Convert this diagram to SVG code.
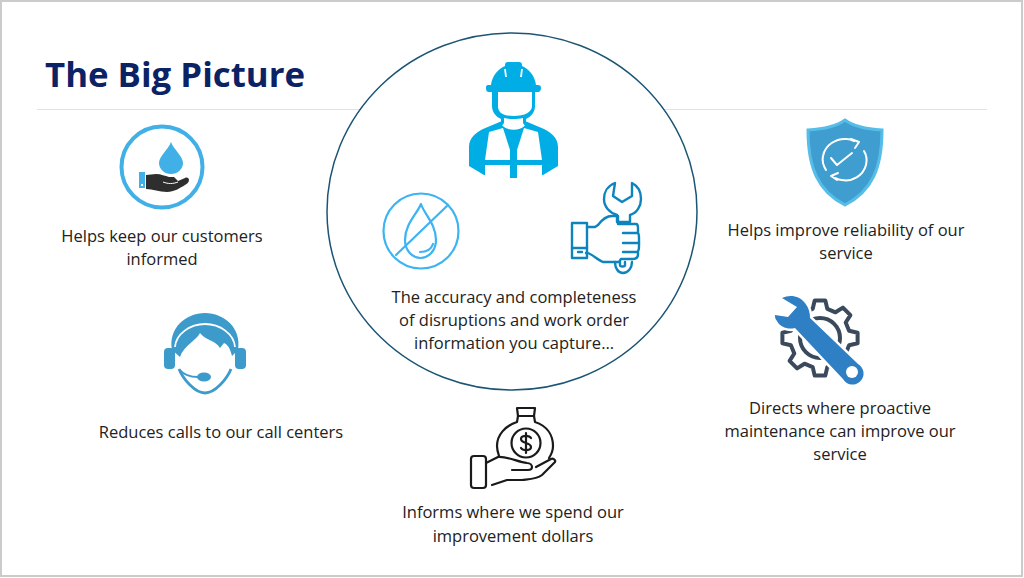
<svg xmlns="http://www.w3.org/2000/svg" width="1024" height="578" viewBox="0 0 1024 578">
<style>
text{font-family:"Open Sans","Noto Sans","Liberation Sans",sans-serif;font-size:16.5px;fill:#222;text-anchor:middle}
text.title{font-size:34.800px;font-weight:700;fill:#0b2265;text-anchor:start}
.ln{fill:none;stroke-linecap:round;stroke-linejoin:round}
</style>
<rect x="1" y="1" width="1021" height="575" fill="#fff" stroke="#cbcbcb" stroke-width="2"/>
<g id="connectors"><path d="M37 109.500H987" stroke="#e2e2e2" stroke-width="1.200"/></g>
<g id="title"><text class="title" x="45" y="87">The Big Picture</text></g>
<g id="center">
<ellipse cx="512" cy="211.500" rx="185" ry="178.500" fill="#fff" stroke="#1b5575" stroke-width="1.500"/>
<g id="worker" fill="#00aee5">
<path d="M491 85c1-9 7-16 14-19v-1c0-2 1-3 3-3h11c2 0 3 1 3 3v1c7 3 13 10 14 19h2c2 0 3 1 3 3s-1 4-3 4h-49c-2 0-3-1-3-4s1-3 3-3z"/>
<path d="M505 69l1 8M522 69l-1 8" stroke="#fff" stroke-width="1.800"/>
<path d="M492 92v14c0 6 4 11 9 13v4h3v-5c3 .7 6 1 9.500 1s6.500-.3 9.500-1v5h3v-4c5-2 9-7 9-13V92h-3v14c0 6-7 10-18.500 10S498 112 498 106V92z"/>
<path d="M469 166v-19c0-10 8-15 14-18l19-8c3 5 7 7 11.500 7s8.500-2 11.500-7l19 8c6 3 14 8 14 18v19l-15 9H484z"/>
<path d="M503 124.500c3 3 7 4 10.500 4s7.500-1 10.500-4" fill="none" stroke="#fff" stroke-width="2.500"/>
<g fill="#fff">
<path d="M485 160l4-28 14-4 7 22v10z"/><path d="M542 160l-4-28-14-4-7 22v10z"/>
<path d="M485 165h25v14h-25z"/><path d="M517 165h25v14h-25z"/>
</g>
<path d="M510 160h7v18h-7z"/>
</g>
<g id="no-water" class="ln" stroke="#3cb4f2" stroke-width="2.200">
<circle cx="421" cy="231" r="37.500"/>
<path d="M396 255l52-50"/>
<path d="M421 204c-4 10-16 20-16 36a15.500 18 0 0 0 31 0c0-16-12-26-15-36z"/>
<path d="M420 252c6 0 11-2 13-8"/>
</g>
<g id="hand-wrench" class="ln" stroke="#0d84bd" stroke-width="2.400">
<path d="M615 183c-8 3-11 10-11 16 0 8 6 14 13 16v7h13v-7c7-2 11-9 11-16 0-7-3-13-9-16v13l-10 6-9-6z"/>
<path d="M572 223h15v35h-15z"/><path d="M572 248h15"/><path d="M578 252h4"/>
<path d="M587 227h8l3-2c3-4 7-9 14-9h6v8h18c2 0 2 2 2 4v5c1 1 1 3 1 5v8c0 2 0 4-1 5v3c0 3-2 5-5 5h-12l-2 3h-16c-5-2-10-7-15-9h-2"/>
<path d="M638 233h-15M639 243h-16M637 252h-14"/>
<path d="M615 262c0 6 3 11 8 11s9-5 9-11M620 262v3c0 2 5 2 5 0v-3"/>
</g>
<text x="514" y="303">The accuracy and completeness</text>
<text x="514" y="326">of disruptions and work order</text>
<text x="514" y="349">information you capture…</text>
</g>
<g id="n-informed">
<circle cx="162" cy="167" r="40.500" fill="none" stroke="#41b0e6" stroke-width="4"/>
<path d="M171 142c-3 8-12 14-12 21a12 11 0 0 0 24 0c0-7-9-13-12-21z" fill="#41b0e6"/>
<rect x="139" y="172" width="6" height="16" fill="#41b0e6"/><rect x="141" y="184" width="2" height="2" fill="#fff"/>
<path d="M146 175l10-1c5 0 9 2 13 3h5l4 4 7-3c2-1 4 0 4 2s-2 4-4 5c-5 3-11 7-18 7-8 0-14-3-21-3z" fill="#2e2e2e"/>
<path d="M163 182c5 2 10 2 15 0" fill="none" stroke="#fff" stroke-width="1"/>
<text x="162" y="242">Helps keep our customers</text>
<text x="162" y="265">informed</text>
</g>
<g id="n-calls">
<path d="M172 350C168 328 186 313 205 313s37 15 33 37l-6 6c-2-8-4-11-8-13l-4 5c-5-8-15-8-20-15-3 7-16 12-20 24z" fill="#3d9bcc"/>
<path d="M175 347c1-13 15-23 30-23s29 10 30 23" fill="none" stroke="#fff" stroke-width="1.800"/>
<rect x="164" y="348" width="11" height="21" rx="4" fill="#3d9bcc"/><rect x="235" y="348" width="11" height="21" rx="4" fill="#3d9bcc"/>
<path d="M179 369c4 10 16 24 26 24s22-14 26-24" fill="none" stroke="#3d9bcc" stroke-width="2.800"/>
<path d="M180 370c4 5 10 7 18 7" fill="none" stroke="#3d9bcc" stroke-width="2"/><ellipse cx="204" cy="377" rx="7" ry="4.500" fill="#3d9bcc"/>
<text x="221" y="438">Reduces calls to our call centers</text>
</g>
<g id="n-reliability">
<path d="M845 120c8 6 20 9 37 10 0 38-10 61-37 75-27-14-37-37-37-75 17-1 29-4 37-10z" fill="#3f9ecf" stroke="#55bde8" stroke-width="3"/>
<g class="ln" stroke="#fff" stroke-width="2"><path d="M826 170c-3-5-4-10-3-14 2-11 13-18 24-17 3 0 5 1 7 2"/><path d="M864 151c3 5 3 10 2 14-3 11-14 17-24 15-3 0-5-1-7-2"/><path d="M851 139l8 3-4 6M838 173l-7 3 6 4"/><path d="M831 158l6 7 15-12"/></g>
<text x="846" y="236">Helps improve reliability of our</text>
<text x="846" y="259">service</text>
</g>
<g id="n-maintenance">
<g transform="translate(820 338)" class="ln" stroke="#3a4a5c" stroke-width="4">
<polygon points="29.100,-7.300 37.600,-5.300 37.600,5.300 29.100,7.300 25.700,15.500 30.400,22.900 22.900,30.400 15.500,25.700 7.300,29.100 5.300,37.600 -5.300,37.600 -7.300,29.100 -15.500,25.700 -22.900,30.400 -30.400,22.900 -25.700,15.500 -29.100,7.300 -37.600,5.300 -37.600,-5.300 -29.100,-7.300 -25.700,-15.500 -30.400,-22.900 -22.900,-30.400 -15.500,-25.700 -7.300,-29.100 -5.300,-37.600 5.300,-37.600 7.300,-29.100 15.500,-25.700 22.900,-30.400 30.400,-22.900 25.700,-15.500"/>
<circle r="20"/>
</g>
<path d="M782 298c8-4 18-2 23 5 4 5 5 10 5 15l48 46a11 11 0 1 1-15 15l-48-51c-7 2-15-1-18-7-2-2-2-4-2-6l13 2 9-10z" fill="#2f7fc5" stroke="#fff" stroke-width="5" paint-order="stroke"/>
<circle cx="852" cy="372" r="6" fill="#fff"/>
<text x="840" y="414">Directs where proactive</text>
<text x="840" y="437">maintenance can improve our</text>
<text x="840" y="460">service</text>
</g>
<g id="n-dollars">
<g class="ln" stroke="#1a1a1a" stroke-width="2.200">
<path d="M517 408h18l-1 8h-16z"/><path d="M518 416l-1 6c-12 4-20 13-20 24 0 4 1 7 2 10M534 416l1 6c12 4 18 13 18 24 0 5-2 9-4 12"/>
<circle cx="526" cy="443" r="14.500"/><path d="M531 438c-2-3-10-3-10 1 0 5 10 3 10 8 0 4-8 4-10 1M526 433v20"/>
<rect x="471" y="456" width="15" height="32" rx="3"/>
<path d="M486 463l12-6c9-1 20 5 29 6 3 0 5 2 5 4s-2 3-4 3h-16m24-3l15-8c2-1 5 1 4 3l-13 13c-5 4-11 4-20 5h-15l-15 5"/>
</g>
<text x="513" y="518">Informs where we spend our</text>
<text x="513" y="542">improvement dollars</text>
</g>
</svg>
